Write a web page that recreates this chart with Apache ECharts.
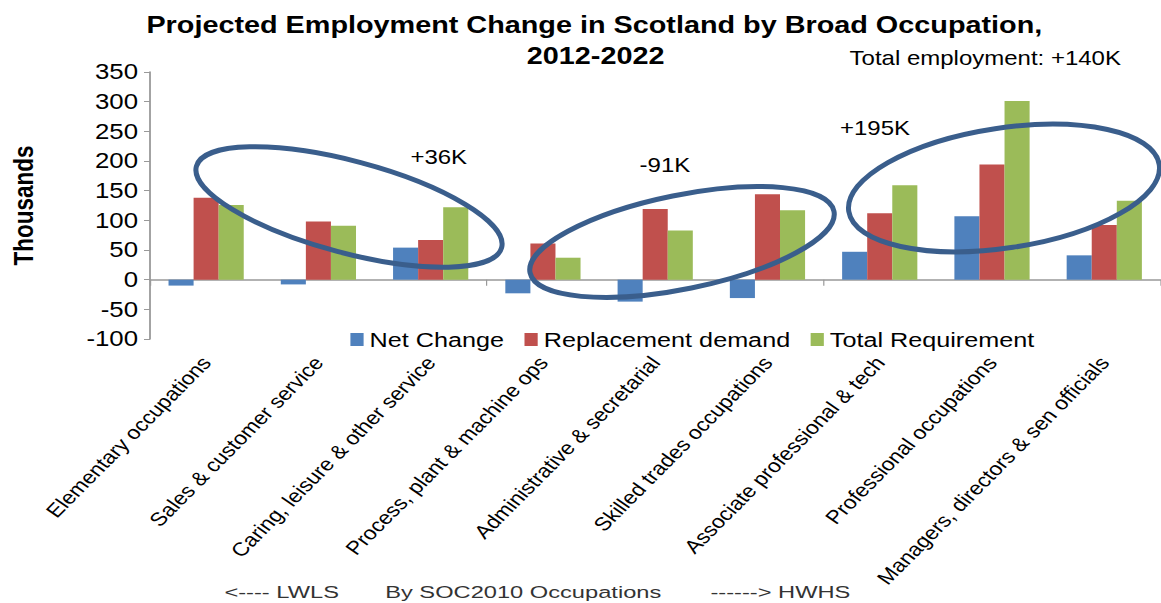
<!DOCTYPE html>
<html>
<head>
<meta charset="utf-8">
<script src="https://cdn.jsdelivr.net/npm/echarts@6/dist/echarts.min.js"></script>
<style>
html,body{margin:0;padding:0;background:#fff;overflow:hidden;width:1161px;height:603px}
#c{width:968px;height:603px;transform:scaleX(1.2);transform-origin:0 0}
</style>
</head>
<body>
<div id="c"></div>
<script>
const categories = ['Elementary occupations','Sales & customer service','Caring, leisure & other service','Process, plant & machine ops','Administrative & secretarial','Skilled trades occupations','Associate professional & tech','Professional occupations','Managers, directors & sen officials'];
const netChange = [-10, -8, 54, -23, -37, -31, 47, 107, 41];
const replacementDemand = [138, 98, 67, 61, 119, 144, 112, 194, 92];
const totalRequirement = [126, 91, 122, 37, 83, 117, 159, 301, 133];
const yTicks = {min: -100, max: 350, interval: 50};

const S = 1.2; // horizontal stretch of the whole picture
const F = 'Liberation Sans, Arial, sans-serif';
const chart = echarts.init(document.getElementById('c'), null, {renderer: 'svg'});
const ring = '#3A5E8C';
function ell(cx, cy, rx, ry, rot) {
  return {type: 'ellipse', x: cx, y: cy, rotation: rot, shape: {cx: 0, cy: 0, rx: rx, ry: ry},
          style: {fill: 'none', stroke: ring, lineWidth: 5}, z: 100};
}
// label angle chosen so that it reads 45 degrees after the horizontal stretch
const labelRotate = Math.atan(S) * 180 / Math.PI;
chart.setOption({
  animation: false,
  grid: {left: 123, right: 1, top: 72, bottom: 264},
  legend: {
    data: ['Net Change','Replacement demand','Total Requirement'],
    left: 287, top: 324, itemWidth: 11, itemHeight: 13, itemGap: 17,
    icon: 'rect',
    textStyle: {fontFamily: F, fontSize: 21, color: '#000'}
  },
  xAxis: [{
    type: 'category', data: categories,
    axisLine: {onZero: true, lineStyle: {color: '#999', width: 1.5}},
    axisTick: {show: true, length: 6, lineStyle: {color: '#999'}},
    axisLabel: {show: false}
  }, {
    type: 'category', data: categories, position: 'bottom',
    axisLine: {show: false}, axisTick: {show: false},
    axisLabel: {rotate: labelRotate, margin: 20, fontFamily: F, fontSize: 19, color: '#000', interval: 0}
  }],
  yAxis: {
    type: 'value', min: yTicks.min, max: yTicks.max, interval: yTicks.interval,
    name: 'Thousands', nameLocation: 'middle', nameGap: 94, nameRotate: 90,
    nameTextStyle: {fontFamily: F, fontSize: 22.5, fontWeight: 'bold', color: '#000'},
    axisLine: {show: true, lineStyle: {color: '#999', width: 1.5}},
    axisTick: {show: true, length: 5, inside: false, lineStyle: {color: '#999'}},
    splitLine: {show: false},
    axisLabel: {fontFamily: F, fontSize: 21.5, color: '#000', margin: 10}
  },
  series: [
    {name: 'Net Change', type: 'bar', data: netChange, barGap: '0%', barCategoryGap: '33%', itemStyle: {color: '#4F81BD'}},
    {name: 'Replacement demand', type: 'bar', data: replacementDemand, itemStyle: {color: '#C0504D'}},
    {name: 'Total Requirement', type: 'bar', data: totalRequirement, itemStyle: {color: '#9BBB59'}}
  ],
  graphic: [
    {type: 'text', left: 122, top: 13, style: {text: 'Projected Employment Change in Scotland by Broad Occupation,', font: 'bold 24px ' + F, fill: '#000'}},
    {type: 'text', left: 439, top: 44, style: {text: '2012-2022', font: 'bold 24px ' + F, fill: '#000'}},
    {type: 'text', left: 708, top: 48, style: {text: 'Total employment: +140K', font: '20px ' + F, fill: '#000'}},
    {type: 'text', left: 342, top: 147, style: {text: '+36K', font: '20px ' + F, fill: '#000'}},
    {type: 'text', left: 533, top: 155, style: {text: '-91K', font: '20px ' + F, fill: '#000'}},
    {type: 'text', left: 700, top: 118, style: {text: '+195K', font: '20px ' + F, fill: '#000'}},
    {type: 'text', x: 187, y: 583, scaleX: 1.16, style: {text: '<---- LWLS', font: '17px ' + F, fill: '#333'}},
    {type: 'text', x: 321, y: 583, scaleX: 1.16, style: {text: 'By SOC2010 Occupations', font: '17px ' + F, fill: '#333'}},
    {type: 'text', x: 592, y: 583, scaleX: 1.16, style: {text: '------> HWHS', font: '17px ' + F, fill: '#333'}},
    {type: 'group', x: 0, y: 0, scaleX: 1 / S, z: 100, children: [
      ell(349, 207, 158, 46, -0.26),
      ell(682, 242, 155, 47, 0.2),
      ell(1004, 188, 157, 60, 0.15)
    ]}
  ]
});
</script>
</body>
</html>
